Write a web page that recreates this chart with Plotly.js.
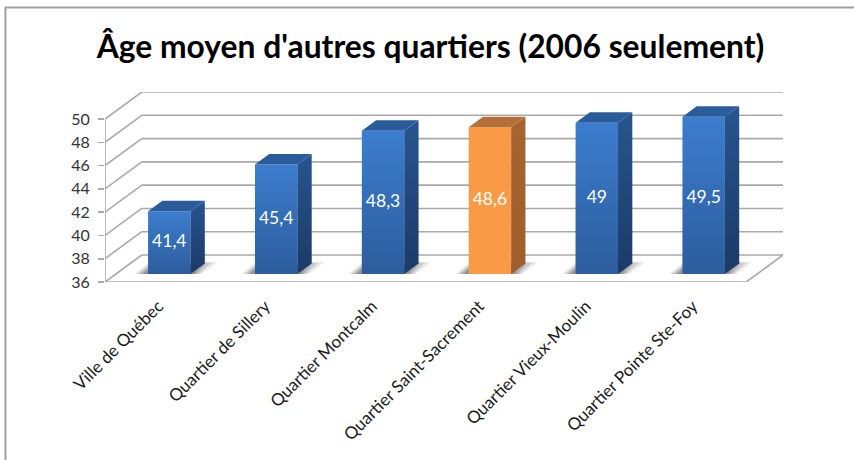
<!DOCTYPE html>
<html>
<head>
<meta charset="utf-8">
<script src="https://cdn.plot.ly/plotly-3.0.1.min.js"></script>
<style>html,body{margin:0;padding:0;background:#fff}#c{width:854px;height:460px}</style>
</head>
<body>
<div id="c"></div>
<script>
const categories = ["Ville de Québec","Quartier de Sillery","Quartier Montcalm","Quartier Saint-Sacrement","Quartier Vieux-Moulin","Quartier Pointe Ste-Foy"];
const values = [41.4,45.4,48.3,48.6,49,49.5];
const valueLabels = ["41,4","45,4","48,3","48,6","49","49,5"];
const yTicks = [36,38,40,42,44,46,48,50];
const highlighted = "Quartier Saint-Sacrement";

const blue = {front:"#3c7dce", shade:"rgba(22,48,88,0.42)", clear:"rgba(22,48,88,0)", sideTop:"#27558f", sideBot:"#1b3a66", top:"#2a5c9c"};
const orange = {front:"#fb9a46", shade:"rgba(251,154,70,0)", clear:"rgba(251,154,70,0)", sideTop:"#a76430", sideBot:"#a05e2c", top:"#b5703a"};

// scale constants: one category and one y unit in pixels; depth of the box
const catPx = 106.7, unitPx = 11.64, depthXPx = 36.7, depthYPx = 27;
const dX = depthXPx/catPx, dY = depthYPx/unitPx;
const yBase = 36, xMax = categories.length + dX, yMax = yBase + 190/unitPx;
const barFront = 0.296, barBack = 0.685, barW = 0.397, labelCap = 43.2;
const gridCol = "#a9a9a9";

const shapes = [];
const line = (x0,y0,x1,y1,w) => shapes.push({type:"line",layer:"below",xref:"x",yref:"y",x0,y0,x1,y1,line:{color:gridCol,width:w||1.6}});
yTicks.forEach(t => {
  line(0,t,dX,t+dY);
  line(dX,t+dY,xMax,t+dY);
});
line(0,yBase,0,50);
line(0,yBase,categories.length,yBase);
line(categories.length,yBase,xMax,yBase+dY);
for (let i=0;i<=categories.length;i++) {
  shapes.push({type:"line",layer:"below",xref:"x",yref:"y",x0:i,x1:i,y0:yBase,y1:yBase-6/unitPx,line:{color:gridCol,width:1.6}});
}
// soft floor shadows
categories.forEach((c,i) => {
  const cx = i+0.5+barFront*dX, l = cx-barW/2, r = cx+barW/2;
  const yb = yBase+barFront*dY;
  [[1,"rgba(90,90,90,0.14)"],[0.8,"rgba(80,80,80,0.18)"],[0.6,"rgba(70,70,70,0.22)"],[0.4,"rgba(60,60,60,0.26)"]].forEach(([k,col]) => {
    const pts = [[l-0.125*k,yb],[l,yb+0.95*k],[r+0.25*k,yb+1.0],[r+0.1*k,yb]];
    shapes.push({type:"path",layer:"below",xref:"x",yref:"y",fillcolor:col,line:{width:0},
      path:"M"+pts.map(p=>p.join(",")).join("L")+"Z"});
  });
});
// outer frame of the picture
const fx = px => (px-105)/677.7, fy = py => (282-py)/190;
shapes.push({type:"path",xref:"paper",yref:"paper",layer:"below",line:{color:"#a0a0a0",width:2},
  path:`M${fx(5.5)},${fy(462)}L${fx(5.5)},${fy(7.5)}L${fx(856)},${fy(7.5)}`});

const traces = [];
const colours = categories.map(c => c===highlighted ? orange : blue);
const centres = categories.map((c,i) => i+0.5+barFront*dX);

traces.push({type:"bar",x:centres,y:values.map(v=>v-yBase),base:yBase+barFront*dY,width:barW,
  marker:{color:colours.map(c=>c.front),line:{width:0}},hoverinfo:"skip",showlegend:false});

const face = (xs,ys,scale) => ({type:"scatter",mode:"lines",x:xs,y:ys,fill:"toself",line:{width:0},
  fillgradient:{type:"vertical",colorscale:scale},hoverinfo:"skip",showlegend:false});

categories.forEach((c,i) => {
  const col = colours[i], l = centres[i]-barW/2, r = centres[i]+barW/2;
  const yb = yBase+barFront*dY, yt = values[i]+barFront*dY;
  const sx = (barBack-barFront)*dX, sy = (barBack-barFront)*dY;
  traces.push(face([l,r,r,l,l],[yb,yb,yt,yt,yb],[[0,col.shade],[1,col.clear]]));
  traces.push(face([r,r+sx,r+sx,r,r],[yb,yb+sy,yt+sy,yt,yb],[[0,col.sideBot],[1,col.sideTop]]));
  traces.push(face([l,r,r+sx,l+sx,l],[yt,yt,yt+sy,yt+sy,yt],[[0,col.top],[1,col.top]]));
});

traces.push({type:"scatter",mode:"text",x:centres,y:values.map(v=>Math.min((yBase+v)/2+barFront*dY,labelCap)),text:valueLabels,
  textposition:"middle center",textfont:{family:"Lato, sans-serif",size:17.5,color:"#ffffff"},hoverinfo:"skip",showlegend:false});

const layout = {
  width:854,height:460,autosize:false,
  margin:{l:105,r:71.3,t:92,b:178,pad:0},
  paper_bgcolor:"#ffffff",plot_bgcolor:"rgba(0,0,0,0)",
  showlegend:false,
  title:{text:"Âge moyen d'autres quartiers (2006 seulement)",font:{family:"Lato, sans-serif",size:31.8,color:"#000000",weight:"bold"},
    x:(430.5)/854,xanchor:"center",y:1-47/460,yanchor:"middle"},
  xaxis:{range:[0,xMax],tickmode:"array",tickvals:categories.map((c,i)=>i+0.5),ticktext:categories,tickangle:-45,
    showgrid:false,zeroline:false,showline:false,ticks:"",ticklabelstandoff:10,fixedrange:true,
    tickfont:{family:"Lato, sans-serif",size:17,color:"#1a1a1a"}},
  yaxis:{range:[yBase,yMax],tickmode:"array",tickvals:yTicks,ticktext:yTicks.map(String),
    showgrid:false,zeroline:false,showline:false,ticks:"outside",ticklen:6,tickwidth:1.6,tickcolor:gridCol,fixedrange:true,ticklabelstandoff:5,
    tickfont:{family:"Lato, sans-serif",size:16,color:"#333333"}},
  shapes
};
Plotly.newPlot("c",traces,layout,{displayModeBar:false,staticPlot:true});
</script>
</body>
</html>
